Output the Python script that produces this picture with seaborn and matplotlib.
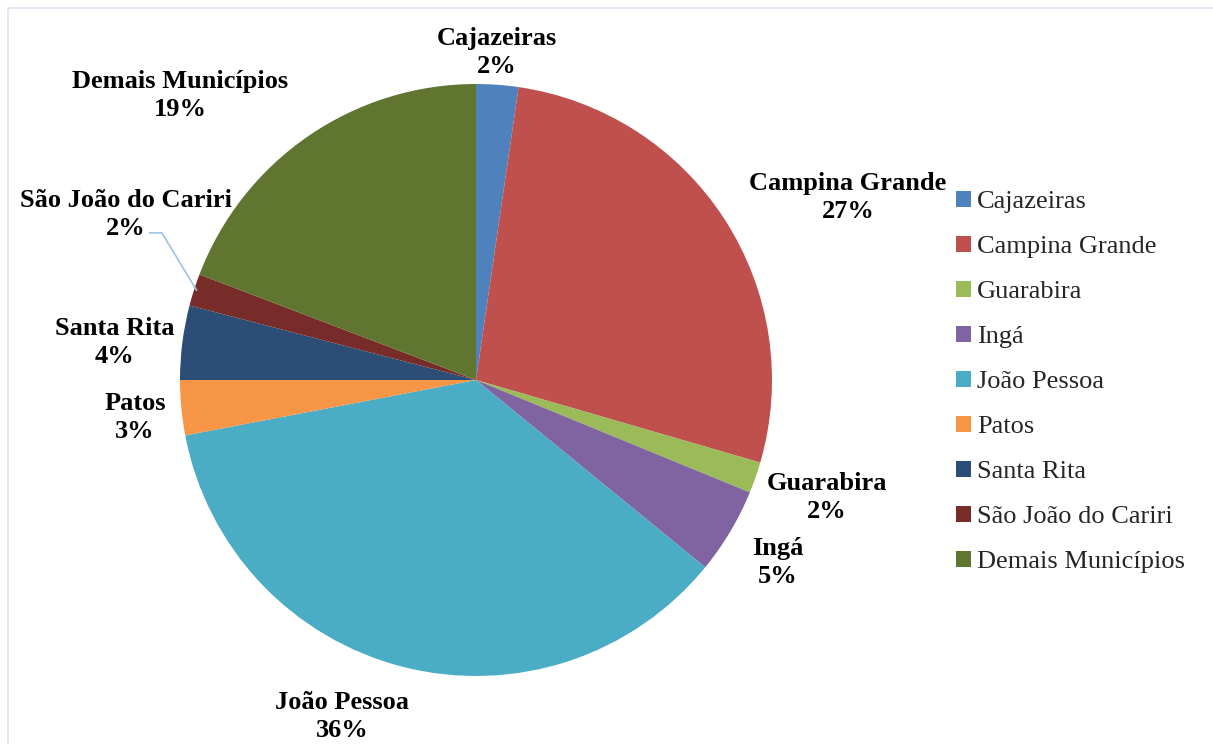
import numpy as np
import matplotlib
matplotlib.use("Agg")
import matplotlib.pyplot as plt
import seaborn as sns
from matplotlib.patches import Rectangle, Patch

sns.set_theme(style="white")
plt.rcParams['font.family'] = ['Liberation Serif', 'DejaVu Serif']

categories = ["Cajazeiras", "Campina Grande", "Guarabira", "Ingá", "João Pessoa",
              "Patos", "Santa Rita", "São João do Cariri", "Demais Municípios"]
values = [2.3, 27.2, 1.7, 4.7, 36.1, 3.0, 4.05, 1.75, 19.2]
pct_labels = ["2%", "27%", "2%", "5%", "36%", "3%", "4%", "2%", "19%"]
colors = ["#4F81BD", "#C0504D", "#9BBB59", "#8064A2", "#4BACC6",
          "#F79646", "#2C4D75", "#772C2A", "#5F7530"]

# label anchor positions (in pie-radius units)
label_pos = [(0.07, 1.107), (1.257, 0.617), (1.186, -0.397), (1.02, -0.616),
             (-0.453, -1.136), (-1.152, -0.126), (-1.22, 0.127), (-1.182, 0.56),
             (-1.0, 0.962)]

W, H = 1213, 744
cx, cy, R = 476, 380, 296
fig = plt.figure(figsize=(W / 100, H / 100), dpi=100)
ax = fig.add_axes([0, 0, 1, 1])

wedges, _ = ax.pie(values, colors=colors, startangle=90, counterclock=False,
                   radius=1.0, center=(0, 0), frame=True,
                   wedgeprops=dict(linewidth=0))
ax.set_xlim(-cx / R, (W - cx) / R)
ax.set_ylim(-(H - cy) / R, cy / R)
ax.set_aspect("auto")
ax.axis("off")

for name, pct, (lx, ly) in zip(categories, pct_labels, label_pos):
    ax.text(lx, ly, f"{name}\n{pct}", ha="center", va="center", fontsize=19,
            fontweight="bold", color="black", linespacing=1.3)

# leader line for São João do Cariri
total = sum(values)
cum = np.cumsum(values)
idx = categories.index("São João do Cariri")
mid = (cum[idx] - values[idx] / 2) / total * 2 * np.pi
px, py = np.sin(mid) * 0.99, np.cos(mid) * 0.99
lx, ly = label_pos[idx]
ax.plot([lx + 0.077, lx + 0.121, px], [ly - 0.063, ly - 0.063, py],
        color="#9DC3E6", lw=1.2, solid_capstyle="butt")

handles = [Patch(facecolor=c, edgecolor="none") for c in colors]
fig.legend(handles, categories, loc="upper left",
           bbox_to_anchor=(956 / W, 1 - 191 / H), frameon=False,
           fontsize=19, handlelength=0.55, handleheight=0.55,
           handletextpad=0.25, labelspacing=0.86, borderpad=0, borderaxespad=0)

fig.patches.append(Rectangle((8 / W, -0.01), (W + 20) / W, 1 - 8 / H + 0.01,
                             transform=fig.transFigure, fill=False,
                             edgecolor="#D9E4F1", lw=1.2))

fig.savefig("out.png", dpi=100)
